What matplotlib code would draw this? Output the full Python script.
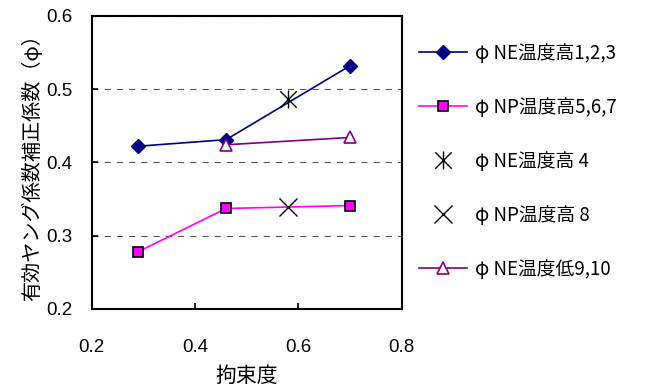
import matplotlib
matplotlib.use("Agg")
import matplotlib.pyplot as plt
from matplotlib.path import Path

plt.rcParams['font.family'] = ['Noto Sans CJK JP', 'DejaVu Sans']

# データ
x_ne_high = [0.29, 0.46, 0.70]
y_ne_high = [0.422, 0.431, 0.532]
x_np_high = [0.29, 0.46, 0.70]
y_np_high = [0.278, 0.337, 0.341]
x_ne4 = [0.58]
y_ne4 = [0.486]
x_np8 = [0.58]
y_np8 = [0.339]
x_ne_low = [0.46, 0.70]
y_ne_low = [0.424, 0.434]

labels = ["φ NE温度高1,2,3", "φ NP温度高5,6,7", "φ NE温度高 4", "φ NP温度高 8", "φ NE温度低9,10"]

# Excelの「*」マーカー（×＋縦線）
star = Path([(-1, -1), (1, 1), (-1, 1), (1, -1), (0, -1.1), (0, 1.1)],
            [Path.MOVETO, Path.LINETO, Path.MOVETO, Path.LINETO, Path.MOVETO, Path.LINETO])

fig = plt.figure(figsize=(6.46, 3.87), dpi=100)
ax = fig.add_axes([0.142, 0.202, 0.480, 0.757])

ax.plot(x_ne_high, y_ne_high, color="#000080", marker="D", markersize=7, linewidth=1.2, label=labels[0])
ax.plot(x_np_high, y_np_high, color="#FF00FF", marker="s", markersize=7, markeredgecolor="black",
        markeredgewidth=1.2, linewidth=1.2, label=labels[1])
ax.plot(x_ne4, y_ne4, linestyle="none", marker=star, markersize=13, color="black",
        markeredgewidth=1.0, label=labels[2])
ax.plot(x_np8, y_np8, linestyle="none", marker="x", markersize=13, color="black",
        markeredgewidth=1.0, label=labels[3])
ax.plot(x_ne_low, y_ne_low, color="#800080", marker="^", markersize=8, markerfacecolor="white",
        markeredgecolor="#800080", markeredgewidth=1.2, linewidth=1.2, label=labels[4])

ax.set_xlim(0.2, 0.8)
ax.set_ylim(0.2, 0.6)
ax.set_xticks([0.2, 0.4, 0.6, 0.8])
ax.set_yticks([0.2, 0.3, 0.4, 0.5, 0.6])
ax.set_xticklabels(["0.2", "0.4", "0.6", "0.8"], family=["Liberation Sans"])
ax.set_yticklabels(["0.2", "0.3", "0.4", "0.5", "0.6"], family=["Liberation Sans"])
ax.tick_params(direction="in", labelsize=13.5, length=4, width=1.2)
ax.tick_params(axis="x", pad=22)
ax.tick_params(axis="y", pad=14)
ax.yaxis.grid(True, linestyle=(0, (5.5, 5.5)), color="#555555", linewidth=0.8)
for s in ax.spines.values():
    s.set_linewidth(1.5)

ax.set_xlabel("拘束度", fontsize=15, labelpad=6)
ax.set_ylabel("有効ヤング係数補正係数（φ）", fontsize=14.5, labelpad=2)

fig.legend(loc="upper left", bbox_to_anchor=(0.622, 0.933), frameon=False, fontsize=13.5,
           labelspacing=1.76, handlelength=2.6, handletextpad=0.4)

fig.savefig("out.png", dpi=100)
